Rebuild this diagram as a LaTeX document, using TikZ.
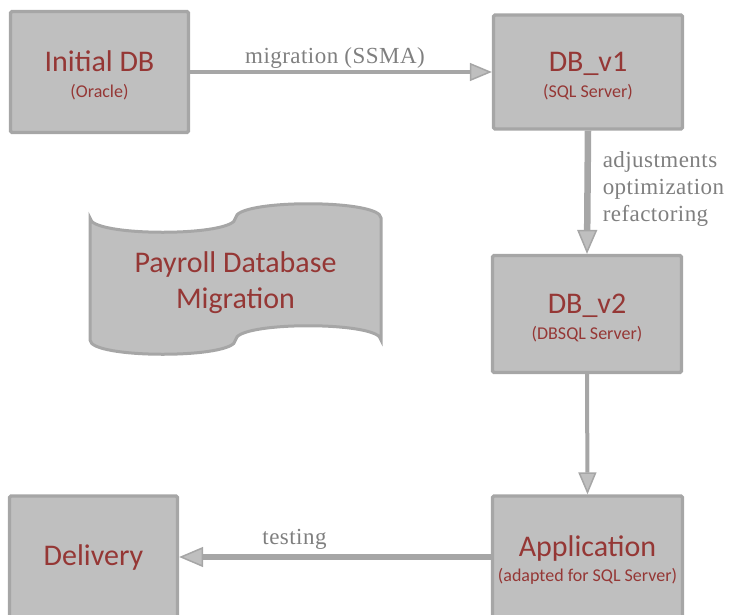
\documentclass[tikz,border=0pt]{standalone}
\usepackage{fontspec}
\setmainfont{Carlito}
\newfontfamily\edgefont[LetterSpace=2]{Liberation Serif}
\usetikzlibrary{arrows.meta}
\definecolor{boxgray}{HTML}{BFBFBF}
\definecolor{linegray}{HTML}{A6A6A6}
\definecolor{textred}{HTML}{953735}
\definecolor{edgegray}{HTML}{7F7F7F}
\tikzstyle{box} = [draw=linegray, fill=boxgray, line width=3.3pt, rounded corners=1.5pt, text=textred, align=center, inner sep=0pt, font=\fontsize{30}{30}\selectfont]
\tikzstyle{line} = [draw=linegray, line width=4pt, -{Triangle[length=22pt,width=18pt,line width=1.5pt,fill=boxgray]}]
\tikzstyle{thickline} = [draw=linegray, line width=6.5pt, -{Triangle[length=24pt,width=20pt,line width=1.5pt,fill=boxgray]}]
\tikzstyle{edgetext} = [text=edgegray, inner sep=2pt, align=left, font=\edgefont\fontsize{23}{27}\selectfont]
\newcommand{\boxtext}[2]{#1\rule{0pt}{27pt}\\[-4.5pt]{\fontsize{18}{18}\selectfont #2}}

\begin{document}
\begin{tikzpicture}[x=1pt,y=-1pt]

\path[use as bounding box, clip] (0,0) rectangle (729,614);

%\draw[help lines,step=50] (0,0) grid (729,614);

% the five steps
\node[box, minimum width=178, minimum height=121] (init) at (99.5,72) {\boxtext{Initial DB}{(Oracle)}};
\node[box, minimum width=189, minimum height=114] (v1) at (588,72) {\boxtext{DB\_v1}{(SQL Server)}};
\node[box, minimum width=189, minimum height=117] (v2) at (587,314) {\boxtext{DB\_v2}{(DBSQL Server)}};
\node[box, minimum width=190, minimum height=122] (app) at (587.5,557) {\boxtext{Application}{(adapted for SQL Server)}};
\node[box, minimum width=168, minimum height=122] (deliv) at (93.5,557) {Delivery};

% title banner
\draw[draw=linegray, fill=boxgray, line width=3pt] (90,218)
  .. controls (90,237) and (235.5,237) .. (235.5,218)
  .. controls (235.5,199) and (381,199) .. (381,218)
  -- (381,340)
  .. controls (381,321) and (235.5,321) .. (235.5,340)
  .. controls (235.5,359) and (90,359) .. (90,340)
  -- cycle;
\node[text=textred, align=center, font=\fontsize{30}{36}\selectfont] (banner) at (235.5,283) {Payroll Database\\Migration};

% arrows
\draw[line] (init.east) -- (v1.west) node[edgetext, pos=0.48, above=0pt] {migration (SSMA)};
\draw[thickline] (v1.south) -- (v2.north) node[edgetext, midway, right=10pt, yshift=3pt] {adjustments\\optimization\\refactoring};
\draw[line] (v2.south) -- (app.north);
\draw[thickline] (app.west) -- (deliv.east) node[edgetext, pos=0.63, above=2pt] {testing};

\end{tikzpicture}
\end{document}
